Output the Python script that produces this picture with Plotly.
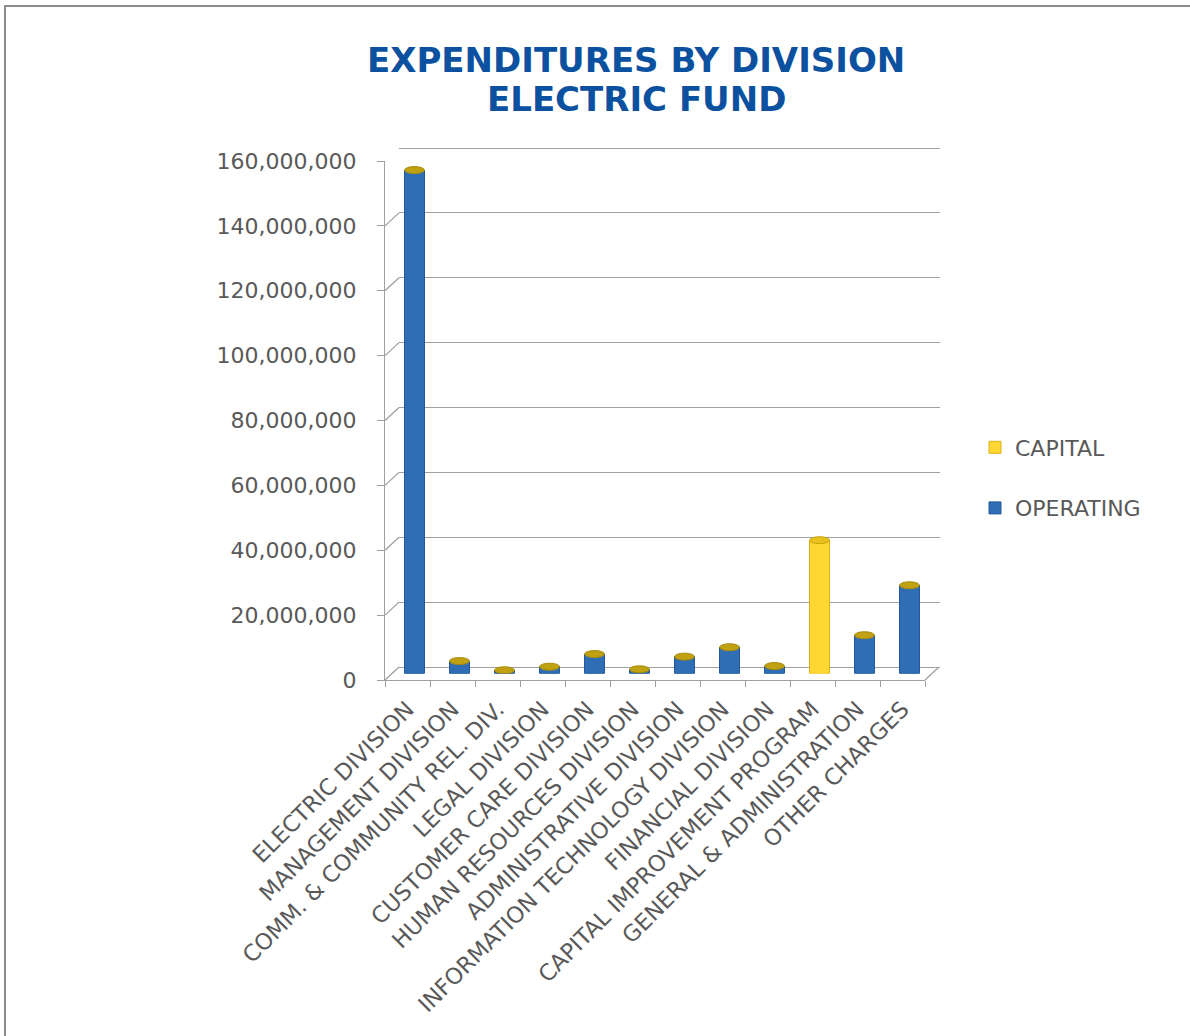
import plotly.graph_objects as go

# ---- data -------------------------------------------------------------
divisions = [
    "ELECTRIC DIVISION",
    "MANAGEMENT DIVISION",
    "COMM. & COMMUNITY REL. DIV.",
    "LEGAL DIVISION",
    "CUSTOMER CARE DIVISION",
    "HUMAN RESOURCES DIVISION",
    "ADMINISTRATIVE DIVISION",
    "INFORMATION TECHNOLOGY DIVISION",
    "FINANCIAL DIVISION",
    "CAPITAL IMPROVEMENT PROGRAM",
    "GENERAL & ADMINISTRATION",
    "OTHER CHARGES",
]
operating = [155_200_000, 3_850_000, 1_000_000, 2_100_000, 6_000_000, 1_300_000,
             5_200_000, 8_100_000, 2_300_000, 0, 11_800_000, 27_200_000]
capital = [0, 0, 0, 0, 0, 0, 0, 0, 0, 41_100_000, 0, 0]
value_ticks = [0, 20_000_000, 40_000_000, 60_000_000, 80_000_000,
               100_000_000, 120_000_000, 140_000_000, 160_000_000]
title_lines = ["EXPENDITURES BY DIVISION", "ELECTRIC FUND"]

# ---- page geometry (pixels) -------------------------------------------
W, H = 1190, 1036
FONT = "Verdana, DejaVu Sans, sans-serif"
GRAY_TXT = "#595959"
GRID = "#A0A0A0"
BLUE = "#2F6EB5"
BLUE_EDGE = "#24589A"
YELLOW = "#FFD632"
YELLOW_EDGE = "#D9B21A"
CAP_GOLD = "#BFA112"
TITLE_BLUE = "#0B51A0"

Y_MAX = 160_000_000
DEPTH_DX, DEPTH_DY = 14, 13          # offset of the back wall
FRONT_X0, FRONT_X1 = 385, 925        # floor front edge
FRONT_Y0, FRONT_Y1 = 680, 161        # value 0 / value Y_MAX on the front axis
BAR_W = 0.44
PX_PER_VAL = (FRONT_Y0 - FRONT_Y1) / Y_MAX


def px_x(x):
    return x / W


def px_y(y):
    return (H - y) / H


fig = go.Figure()

# bars sit half-way into the depth of the 3-D box
mid_dx, mid_dy = DEPTH_DX / 2, DEPTH_DY / 2
fig.add_trace(go.Bar(
    x=divisions, y=capital, name="CAPITAL",
    marker=dict(color=YELLOW, line=dict(color=YELLOW_EDGE, width=1)),
    width=BAR_W, xaxis="x3", yaxis="y3", legendgroup="cap",
))
fig.add_trace(go.Bar(
    x=divisions, y=operating, name="OPERATING",
    marker=dict(color=BLUE, line=dict(color=BLUE_EDGE, width=1)),
    width=BAR_W, xaxis="x3", yaxis="y3", legendgroup="op",
))
# empty trace so the back-wall grid subplot gets drawn
fig.add_trace(go.Scatter(x=[], y=[], xaxis="x2", yaxis="y2",
                         showlegend=False, hoverinfo="skip"))

shapes = []
# cylinder ends: base ellipse in the bar colour, top ellipse in gold
half = BAR_W / 2
for i, (op, cp) in enumerate(zip(operating, capital)):
    total = op + cp
    base_col = YELLOW if op == 0 else BLUE
    shapes.append(dict(type="circle", xref="x3", yref="y3", ysizemode="pixel",
                       yanchor=0, y0=-3.5, y1=3.5, x0=i - half, x1=i + half,
                       fillcolor=base_col, line=dict(width=0), layer="above"))
    top_fill = "#E8C21C" if cp > 0 else CAP_GOLD
    top_line = "#C9A40C" if cp > 0 else "#A88C0A"
    shapes.append(dict(type="circle", xref="x3", yref="y3", ysizemode="pixel",
                       yanchor=total, y0=-3.5, y1=3.5, x0=i - half, x1=i + half,
                       fillcolor=top_fill, line=dict(width=1, color=top_line),
                       layer="above"))

# side wall: diagonals joining the front axis to the back-wall grid lines
for v in value_ticks:
    shapes.append(dict(type="line", xref="paper", yref="y", ysizemode="pixel",
                       yanchor=v, y0=0, y1=DEPTH_DY,
                       x0=px_x(FRONT_X0), x1=px_x(FRONT_X0 + DEPTH_DX),
                       line=dict(color=GRID, width=1.3), layer="below"))
# right edge of the floor
shapes.append(dict(type="line", xref="paper", yref="paper",
                   x0=px_x(FRONT_X1), y0=px_y(FRONT_Y0),
                   x1=px_x(FRONT_X1 + DEPTH_DX), y1=px_y(FRONT_Y0 - DEPTH_DY),
                   line=dict(color=GRID, width=1.3), layer="below"))
# chart frame
shapes.append(dict(type="rect", xref="paper", yref="paper",
                   x0=px_x(5), x1=1.05, y0=-0.05, y1=px_y(6),
                   line=dict(color="#8C8C8C", width=2), layer="below"))

# two-line heading
annotations = [
    dict(text=f"<b>{line}</b>", xref="paper", yref="paper",
         x=px_x(636), y=px_y(cy), xanchor="center", yanchor="middle",
         showarrow=False, font=dict(family=FONT, size=34, color=TITLE_BLUE))
    for line, cy in zip(title_lines, [60, 99])
]

# back-wall grid axis gets a little slack so the top grid line is kept
pad = 2_000_000
pad_px = pad * PX_PER_VAL

fig.update_layout(
    width=W, height=H,
    margin=dict(l=0, r=0, t=0, b=0, autoexpand=False),
    paper_bgcolor="white",
    plot_bgcolor="rgba(0,0,0,0)",
    barmode="stack",
    showlegend=True,
    legend=dict(
        x=px_x(975), y=px_y(478), xanchor="left", yanchor="middle",
        font=dict(family=FONT, size=22, color=GRAY_TXT),
        traceorder="grouped", tracegroupgap=29,
        bgcolor="rgba(0,0,0,0)",
    ),
    # front axis: value labels and category labels
    xaxis=dict(
        domain=[px_x(FRONT_X0), px_x(FRONT_X1)], anchor="y",
        type="category", range=[-0.5, len(divisions) - 0.5],
        categoryorder="array", categoryarray=divisions,
        tickmode="array", tickvals=divisions, ticktext=divisions,
        tickson="boundaries", ticks="outside", ticklen=6, tickcolor=GRID,
        showline=True, linecolor=GRID, linewidth=1.3,
        showgrid=False, zeroline=False, tickangle=-45, ticklabelstandoff=6,
        tickfont=dict(family=FONT, size=22.5, color=GRAY_TXT), automargin=False,
    ),
    yaxis=dict(
        domain=[px_y(FRONT_Y0), px_y(FRONT_Y1)], anchor="x",
        range=[0, Y_MAX], tickmode="array", tickvals=value_ticks,
        tickformat=",d", ticks="outside", ticklen=7, tickcolor=GRID,
        showline=True, linecolor=GRID, linewidth=1.3,
        showgrid=False, zeroline=False, ticklabelstandoff=16,
        tickfont=dict(family=FONT, size=22, color=GRAY_TXT), automargin=False,
    ),
    # back wall: horizontal grid lines
    xaxis2=dict(
        domain=[px_x(FRONT_X0 + DEPTH_DX), px_x(FRONT_X1 + DEPTH_DX) + 1 / W],
        anchor="y2", range=[0, 1], showgrid=False, showline=False,
        zeroline=False, showticklabels=False, ticks="", automargin=False,
    ),
    yaxis2=dict(
        domain=[px_y(FRONT_Y0 - DEPTH_DY + pad_px),
                px_y(FRONT_Y1 - DEPTH_DY - pad_px)],
        anchor="x2", range=[-pad, Y_MAX + pad], tickmode="array",
        tickvals=value_ticks, showgrid=True, gridcolor=GRID, gridwidth=1.3,
        zeroline=False, showticklabels=False, ticks="", showline=False,
        automargin=False,
    ),
    # bars, placed at mid depth
    xaxis3=dict(
        domain=[px_x(FRONT_X0 + mid_dx), px_x(FRONT_X1 + mid_dx)],
        anchor="y3", type="category", range=[-0.5, len(divisions) - 0.5],
        categoryorder="array", categoryarray=divisions,
        visible=False, automargin=False,
    ),
    yaxis3=dict(
        domain=[px_y(FRONT_Y0 - mid_dy), px_y(FRONT_Y1 - mid_dy)],
        anchor="x3", range=[0, Y_MAX], visible=False, automargin=False,
    ),
    shapes=shapes,
    annotations=annotations,
)

fig.write_html("out.html")
